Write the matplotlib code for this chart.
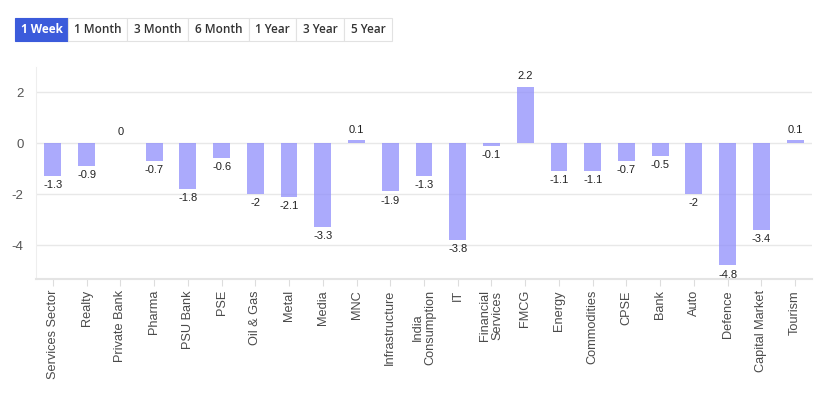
import matplotlib
matplotlib.use("Agg")
import matplotlib.pyplot as plt
from matplotlib.patches import Rectangle

categories = ["Services Sector", "Realty", "Private Bank", "Pharma", "PSU Bank", "PSE",
              "Oil & Gas", "Metal", "Media", "MNC", "Infrastructure", "India\nConsumption",
              "IT", "Financial\nServices", "FMCG", "Energy", "Commodities", "CPSE", "Bank",
              "Auto", "Defence", "Capital Market", "Tourism"]
values = [-1.3, -0.9, 0, -0.7, -1.8, -0.6, -2, -2.1, -3.3, 0.1, -1.9, -1.3,
          -3.8, -0.1, 2.2, -1.1, -1.1, -0.7, -0.5, -2, -4.8, -3.4, 0.1]
value_labels = ["-1.3", "-0.9", "0", "-0.7", "-1.8", "-0.6", "-2", "-2.1", "-3.3", "0.1",
                "-1.9", "-1.3", "-3.8", "-0.1", "2.2", "-1.1", "-1.1", "-0.7", "-0.5",
                "-2", "-4.8", "-3.4", "0.1"]
yticks = [-4, -2, 0, 2]
buttons = ["1 Week", "1 Month", "3 Month", "6 Month", "1 Year", "3 Year", "5 Year"]

W, H = 822, 396
fig = plt.figure(figsize=(W / 100, H / 100), dpi=100)
fig.patch.set_facecolor("white")

ax = fig.add_axes([36 / W, 1 - 279 / H, (812 - 36) / W, (279 - 67) / H])
x = list(range(len(categories)))
ax.bar(x, values, width=0.5, color="#8f8efb", alpha=0.75, zorder=3)
ax.set_xlim(-0.5, len(categories) - 0.5)
ax.set_ylim(-5.33, 2.98)
ax.set_yticks(yticks)
ax.set_yticklabels([str(t) for t in yticks])
ax.yaxis.grid(True, color="#e8e8e8", linewidth=1, zorder=0)
ax.set_axisbelow(True)
ax.set_xticks(x)
ax.set_xticklabels(categories, rotation=90, fontsize=9.2, color="#4a4a4a",
                   family="Liberation Sans", linespacing=1.0)
ax.tick_params(axis="x", length=5, color="#dddddd", pad=3)
ax.tick_params(axis="y", length=0, labelsize=9.5, labelcolor="#555555", pad=9)
for lab in ax.get_yticklabels():
    lab.set_family("Liberation Sans")
for s in ["top", "right"]:
    ax.spines[s].set_visible(False)
ax.spines["left"].set_color("#eeeeee")
ax.spines["bottom"].set_color("#e4e4e4")
ax.spines["bottom"].set_linewidth(1.5)

for xi, v, lab in zip(x, values, value_labels):
    if v >= 0:
        ax.annotate(lab, (xi, v), xytext=(0, 4), textcoords="offset points",
                    ha="center", va="bottom", fontsize=8, color="#222222",
                    family="Liberation Sans")
    else:
        ax.annotate(lab, (xi, v), xytext=(0, -3), textcoords="offset points",
                    ha="center", va="top", fontsize=8, color="#222222",
                    family="Liberation Sans")

# period buttons
edges = [15, 68, 127, 188, 249, 296, 344, 392]
btop, bbot = 18, 41
for i, name in enumerate(buttons):
    x0, x1 = edges[i], edges[i + 1]
    active = i == 0
    fig.patches.append(Rectangle((x0 / W, 1 - bbot / H), (x1 - x0) / W, (bbot - btop) / H,
                                 transform=fig.transFigure,
                                 facecolor="#3b5bdb" if active else "white",
                                 edgecolor="#3b5bdb" if active else "#e2e2e2",
                                 linewidth=0.8, zorder=1))
    fig.text((x0 + x1) / 2 / W, 1 - (btop + bbot) / 2 / H, name, ha="center", va="center",
             fontsize=8.5, fontweight="bold" if active else "semibold",
             color="white" if active else "#333333", family="Open Sans", zorder=2)

fig.savefig("out.png", dpi=100, facecolor="white")
